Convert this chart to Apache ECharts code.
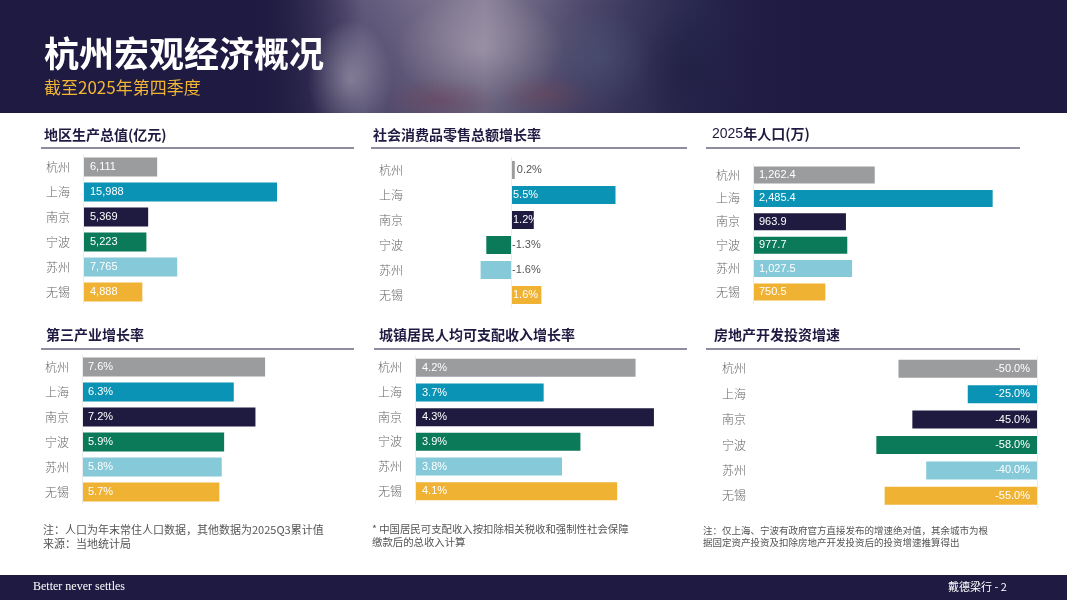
<!DOCTYPE html>
<html>
<head>
<meta charset="utf-8">
<title>杭州宏观经济概况</title>
<script src="https://cdn.jsdelivr.net/npm/echarts@6/dist/echarts.min.js"></script>
<style>
  html, body { margin: 0; padding: 0; background: #fff; }
  #main { width: 1067px; height: 600px; }
</style>
</head>
<body>
<div id="main"></div>
<script>
//************************* 数据 ******************************//
var cities = ['杭州', '上海', '南京', '宁波', '苏州', '无锡'];
var gdp = [6111, 15988, 5369, 5223, 7765, 4888];           // 地区生产总值(亿元)
var retailGrowth = [0.2, 5.5, 1.2, -1.3, -1.6, 1.6];       // 社会消费品零售总额增长率
var population = [1262.4, 2485.4, 963.9, 977.7, 1027.5, 750.5]; // 2025年人口(万)
var tertiaryGrowth = [7.6, 6.3, 7.2, 5.9, 5.8, 5.7];       // 第三产业增长率
var incomeGrowth = [4.2, 3.7, 4.3, 3.9, 3.8, 4.1];         // 城镇居民人均可支配收入增长率
var realEstateGrowth = [-50.0, -25.0, -45.0, -58.0, -40.0, -55.0]; // 房地产开发投资增速

var cityColors = ['#9b9c9e', '#0a93b4', '#1f1b40', '#0b7a59', '#86c9d8', '#f0b233'];
var NAVY = '#1f1a41';
var CJK = '"Noto Sans CJK SC", "Noto Sans", sans-serif';
var LATIN = '"Liberation Sans", Arial, sans-serif';

//************************* public fun **************************//
function thousands(v, dec) {
    var s = v.toFixed(dec).split('.');
    s[0] = s[0].replace(/\B(?=(\d{3})+(?!\d))/g, ',');
    return s.join('.');
}
function pct(v) { return v.toFixed(1) + '%'; }
//页眉图片的模糊光斑
function blob(cx, cy, r, sx, sy, color) {
    return {
        type: 'circle', silent: true, shape: { cx: 0, cy: 0, r: r },
        x: cx, y: cy, scaleX: sx, scaleY: sy,
        style: { fill: new echarts.graphic.RadialGradient(0.5, 0.5, 0.5, [
            { offset: 0, color: color },
            { offset: 1, color: color.replace(/[\d.]+\)$/, '0)') }
        ]) }
    };
}

//每个面板一个grid
var panels = [
    { grid: { left: 83, top: 154.5, width: 267, height: 150 }, min: 0, max: 22000, data: gdp, barWidth: 19, dist: 7,
      fmt: function (v) { return thousands(v, 0); } },
    { grid: { left: 416, top: 157.5, width: 266, height: 150 }, min: -5, max: 9, data: retailGrowth, barWidth: 18, dist: 2,
      fmt: pct, mixed: true },
    { grid: { left: 753, top: 163.3, width: 270, height: 140.4 }, min: 0, max: 2800, data: population, barWidth: 17, dist: 6,
      fmt: function (v) { return thousands(v, 1); } },
    { grid: { left: 82, top: 354.5, width: 265, height: 150 }, min: 0, max: 11, data: tertiaryGrowth, barWidth: 19, dist: 6,
      fmt: pct },
    { grid: { left: 415, top: 355.5, width: 266.5, height: 148 }, min: 3, max: 4.45, data: incomeGrowth, barWidth: 18, dist: 7,
      fmt: pct },
    { grid: { left: 760, top: 356, width: 277, height: 152.5 }, min: -100, max: 0, data: realEstateGrowth, barWidth: 18, dist: 7,
      fmt: pct, negative: true }
];

var grids = [], xAxes = [], yAxes = [], series = [];
panels.forEach(function (p, i) {
    grids.push(p.grid);
    xAxes.push({
        gridIndex: i, type: 'value', min: p.min, max: p.max,
        axisLine: { show: false }, axisTick: { show: false },
        axisLabel: { show: false }, splitLine: { show: false }
    });
    yAxes.push({
        gridIndex: i, type: 'category', data: cities, inverse: true,
        axisLine: { show: false, onZero: false }, axisTick: { show: false },
        axisLabel: {
            color: '#666', fontSize: 12, fontFamily: CJK, fontWeight: 300,
            margin: p.negative ? 38 : 13,
            align: p.negative ? 'left' : 'right'
        }
    });
    var items = p.data.map(function (v, k) {
        var label = {
            show: true, position: 'insideLeft', distance: p.dist,
            color: '#fff', fontSize: 11, fontFamily: LATIN
        };
        if (p.negative) {
            label.position = 'insideRight';
        } else if (p.mixed && v < 0.5) {
            //小值和负值标签放在零轴右侧
            label.position = 'right';
            label.color = '#555';
            label.distance = v < 0 ? 1 : 2;
        }
        return { value: v, itemStyle: { color: cityColors[k] }, label: label };
    });
    series.push({
        type: 'bar', xAxisIndex: i, yAxisIndex: i, barWidth: p.barWidth,
        data: items, silent: true,
        label: { formatter: (function (f) { return function (params) { return f(params.value); }; })(p.fmt) },
        markLine: {
            silent: true, symbol: 'none', label: { show: false },
            lineStyle: { color: '#ececec', type: 'solid', width: 1 },
            data: [{ xAxis: p.min > 0 ? p.min : 0 }]
        }
    });
});

//面板标题 + 下划线
var titles = [
    { text: '地区生产总值(亿元)', x: 44, y: 137, lx1: 41, lx2: 354, ly: 148 },
    { text: '社会消费品零售总额增长率', x: 373, y: 137, lx1: 371, lx2: 687, ly: 148 },
    { text: '{n|2025}年人口(万)', x: 712, y: 136, lx1: 706, lx2: 1020, ly: 148 },
    { text: '第三产业增长率', x: 46, y: 337, lx1: 41, lx2: 354, ly: 349 },
    { text: '城镇居民人均可支配收入增长率', x: 379, y: 337, lx1: 374, lx2: 687, ly: 349 },
    { text: '房地产开发投资增速', x: 714, y: 337, lx1: 706, lx2: 1020, ly: 349 }
];

var graphics = [
    //页眉
    { type: 'rect', shape: { x: 0, y: 0, width: 1067, height: 113 }, style: { fill: NAVY }, silent: true },
    { type: 'rect', shape: { x: 250, y: 0, width: 560, height: 113 }, silent: true,
      style: { fill: new echarts.graphic.LinearGradient(0, 0, 1, 0, [
          { offset: 0, color: 'rgba(31,26,65,0)' },
          { offset: 0.2, color: 'rgba(150,140,170,0.55)' },
          { offset: 0.42, color: 'rgba(195,185,200,0.65)' },
          { offset: 0.6, color: 'rgba(125,120,150,0.5)' },
          { offset: 0.8, color: 'rgba(60,65,105,0.35)' },
          { offset: 1, color: 'rgba(31,26,65,0)' }
      ]) } },
    blob(350, 80, 60, 0.7, 1.0, 'rgba(230,225,235,0.5)'),
    blob(480, 50, 70, 1.2, 0.8, 'rgba(220,210,215,0.4)'),
    blob(440, 100, 45, 1.3, 0.5, 'rgba(150,70,80,0.35)'),
    blob(545, 95, 40, 1.2, 0.5, 'rgba(160,80,80,0.3)'),
    blob(600, 60, 50, 1.0, 1.0, 'rgba(90,120,150,0.3)'),
    blob(685, 70, 55, 0.8, 1.2, 'rgba(25,25,60,0.45)'),
    { type: 'rect', shape: { x: 250, y: 0, width: 560, height: 113 }, silent: true,
      style: { fill: new echarts.graphic.LinearGradient(0, 0, 0, 1, [
          { offset: 0, color: 'rgba(31,26,65,0)' },
          { offset: 1, color: 'rgba(31,26,65,0.3)' }
      ]) } },
    //遮住溢出页眉的光斑
    { type: 'rect', shape: { x: 0, y: 113, width: 1067, height: 40 }, style: { fill: '#fff' }, silent: true },
    { type: 'text', left: 44, top: 36, silent: true,
      style: { text: '杭州宏观经济概况', fill: '#fff', font: 'bold 35px ' + CJK } },
    { type: 'text', left: 44, top: 79, silent: true,
      style: { text: '截至2025年第四季度', fill: '#f2b634', font: '17px ' + CJK } },

    //脚注
    { type: 'text', left: 43, top: 523, silent: true,
      style: { text: '注：人口为年末常住人口数据，其他数据为2025Q3累计值\n来源：当地统计局', fill: '#555', font: '11px ' + CJK, lineHeight: 14 } },
    { type: 'text', left: 372, top: 523, silent: true,
      style: { text: '* 中国居民可支配收入按扣除相关税收和强制性社会保障\n缴款后的总收入计算', fill: '#555', font: '10.4px ' + CJK, lineHeight: 13 } },
    { type: 'text', left: 703, top: 524, silent: true,
      style: { text: '注：仅上海、宁波有政府官方直接发布的增速绝对值，其余城市为根\n据固定资产投资及扣除房地产开发投资后的投资增速推算得出', fill: '#555', font: '9.5px ' + CJK, lineHeight: 12 } },

    //页脚
    { type: 'rect', shape: { x: 0, y: 575, width: 1067, height: 25 }, style: { fill: NAVY }, silent: true },
    { type: 'text', left: 33, top: 581, silent: true,
      style: { text: 'Better never settles', fill: '#fff', font: '12px "Liberation Serif", "DejaVu Serif", serif' } },
    { type: 'text', left: 948, top: 581, silent: true,
      style: { text: '戴德梁行 - 2', fill: '#fff', font: '11px ' + CJK } }
];

titles.forEach(function (t) {
    graphics.push({
        type: 'text', left: t.x, top: t.y - 9, silent: true,
        style: {
            text: t.text, fill: NAVY, font: 'bold 14px ' + CJK,
            rich: { n: { fontFamily: LATIN, fontSize: 14, fontWeight: 'normal', fill: NAVY } }
        }
    });
    graphics.push({
        type: 'line', silent: true,
        shape: { x1: t.lx1, y1: t.ly, x2: t.lx2, y2: t.ly },
        style: { stroke: NAVY, lineWidth: 1 }
    });
});

var myChart = echarts.init(document.getElementById('main'));
var option = {
    animation: false,
    backgroundColor: '#fff',
    textStyle: { fontFamily: CJK },
    grid: grids,
    xAxis: xAxes,
    yAxis: yAxes,
    series: series,
    graphic: graphics
};
myChart.setOption(option);
window.onresize = myChart.resize;
</script>
</body>
</html>
